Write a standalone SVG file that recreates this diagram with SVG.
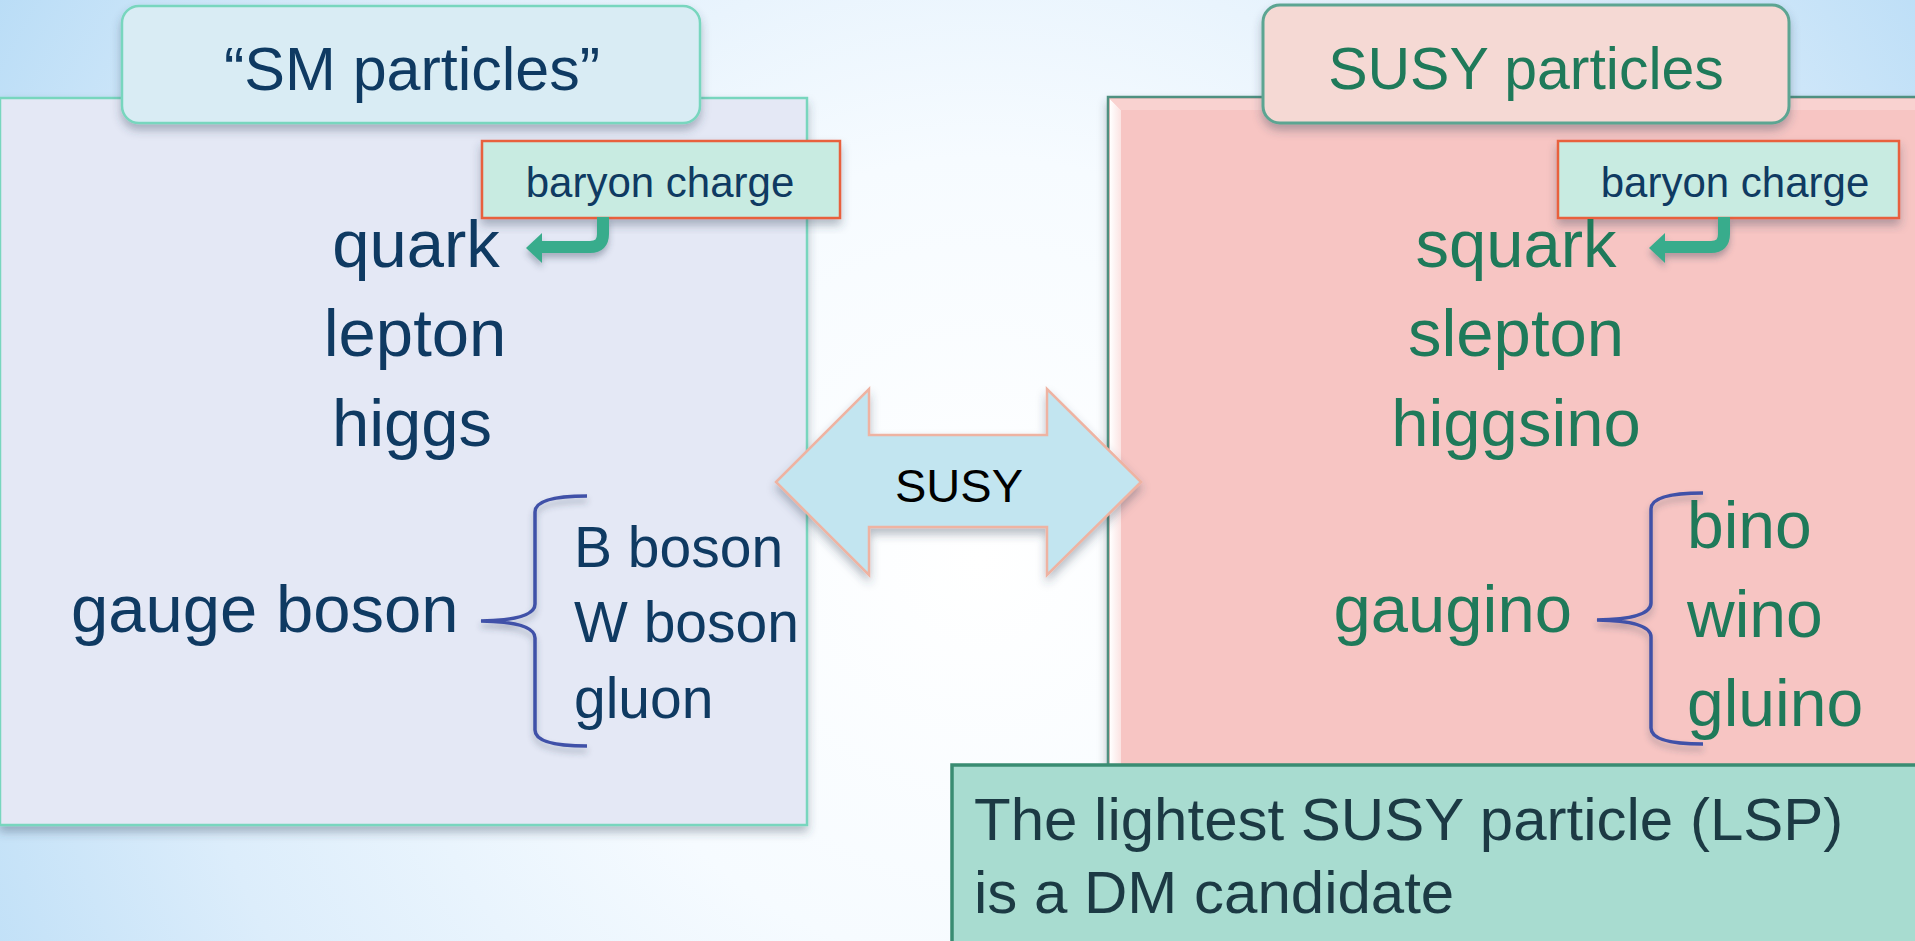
<svg xmlns="http://www.w3.org/2000/svg" width="1915" height="941" viewBox="0 0 1915 941">
<defs>
<radialGradient id="bg" cx="980" cy="560" r="1150" gradientUnits="userSpaceOnUse">
<stop offset="0" stop-color="#ffffff"/>
<stop offset="0.35" stop-color="#f6fbff"/>
<stop offset="0.7" stop-color="#dcedfb"/>
<stop offset="1" stop-color="#b8dcf6"/>
</radialGradient>
<linearGradient id="bevel" x1="0" y1="0" x2="1" y2="0">
<stop offset="0" stop-color="#ffffff"/>
<stop offset="1" stop-color="#fbe3e2"/>
</linearGradient>
<filter id="sh" x="-10%" y="-10%" width="120%" height="130%">
<feDropShadow dx="0" dy="6" stdDeviation="5" flood-color="#33405a" flood-opacity="0.35"/>
</filter>
<filter id="shs" x="-20%" y="-20%" width="140%" height="160%">
<feDropShadow dx="0" dy="5" stdDeviation="3" flood-color="#33405a" flood-opacity="0.35"/>
</filter>
</defs>
<style>
text{font-family:"Liberation Sans",Arial,sans-serif}
.sm{fill:#0f3a62}
.su{fill:#1f7a5a}
.big{font-size:67px}
.sub{font-size:57px}
.bc{font-size:42px;fill:#0f3a62}
.brace{fill:none;stroke:#3f51a8;stroke-width:3.5;filter:url(#shs)}
.bent{fill:none;stroke:#38ac8c;stroke-width:12}
.bhead{fill:#38ac8c}
</style>
<rect x="0" y="0" width="1915" height="941" fill="url(#bg)"/>

<g id="sm-panel">
<rect x="0" y="98" width="807" height="727" fill="#e4e8f5" stroke="#78d6be" stroke-width="2.5" filter="url(#sh)"/>
</g>

<g id="susy-panel">
<rect x="1108" y="97" width="820" height="720" fill="#f7c5c3" stroke="#4f9080" stroke-width="2.5" filter="url(#sh)"/>
<polygon points="1110,99 1121,110 1121,817 1110,817" fill="url(#bevel)"/>
<polygon points="1110,99 1915,99 1915,110 1121,110" fill="#f9d2d0"/>
</g>

<g id="sm-title">
<rect x="122" y="6" width="578" height="117" rx="17" fill="#d9ecf4" stroke="#78d6be" stroke-width="2.5" filter="url(#sh)"/>
<text x="412" y="90" text-anchor="middle" font-size="61" class="sm">“SM particles”</text>
</g>

<g id="susy-title">
<rect x="1263" y="5" width="526" height="118" rx="17" fill="#f5d9d4" stroke="#5ca592" stroke-width="3" filter="url(#sh)"/>
<text x="1526" y="89" text-anchor="middle" font-size="59" class="su">SUSY particles</text>
</g>

<g id="sm-baryon">
<rect x="482" y="141" width="358" height="77" fill="#c8ebe1" stroke="#e8603c" stroke-width="2.5" filter="url(#sh)"/>
<text x="660" y="197" text-anchor="middle" class="bc">baryon charge</text>
</g>

<g id="susy-baryon">
<rect x="1558" y="141" width="341" height="77" fill="#c8ebe1" stroke="#e8603c" stroke-width="2.5" filter="url(#sh)"/>
<text x="1735" y="197" text-anchor="middle" class="bc">baryon charge</text>
</g>

<g id="sm-list">
<text x="416" y="267" text-anchor="middle" class="sm big">quark</text>
<text x="415" y="356" text-anchor="middle" class="sm big">lepton</text>
<text x="412" y="446" text-anchor="middle" class="sm big">higgs</text>
<text x="71" y="632" class="sm big">gauge boson</text>
<text x="574" y="567" class="sm sub">B boson</text>
<text x="574" y="642" class="sm sub">W boson</text>
<text x="574" y="718" class="sm sub">gluon</text>
</g>

<g id="susy-list">
<text x="1516" y="267" text-anchor="middle" class="su big">squark</text>
<text x="1516" y="356" text-anchor="middle" class="su big">slepton</text>
<text x="1516" y="446" text-anchor="middle" class="su big">higgsino</text>
<text x="1572" y="632" text-anchor="end" class="su big">gaugino</text>
<text x="1687" y="548" class="su" font-size="66">bino</text>
<text x="1687" y="637" class="su" font-size="66">wino</text>
<text x="1687" y="726" class="su" font-size="66">gluino</text>
</g>

<g id="susy-arrow">
<polygon points="776,482 869,389 869,435 1047,435 1047,389 1141,482 1047,575 1047,527 869,527 869,575" fill="#c2e5f0" stroke="#eeb3a2" stroke-width="2.5" stroke-linejoin="miter" filter="url(#sh)"/>
<text x="959" y="502" text-anchor="middle" font-size="47" fill="#000000">SUSY</text>
</g>

<g id="lsp">
<rect x="952" y="765" width="975" height="190" fill="#a8dcd0" stroke="#3a8c72" stroke-width="3.5"/>
<text x="974" y="840" font-size="60" fill="#1c3a44">The lightest SUSY particle (LSP)</text>
<text x="974" y="913" font-size="60" fill="#1c3a44">is a DM candidate</text>
</g>

<g id="connectors">
<g filter="url(#shs)">
<path class="bent" d="M603,217 L603,234 Q603,247 590,247 L538,247"/>
<polygon class="bhead" points="526,248 542,233 542,263"/>
<path class="bent" d="M1724,217 L1724,234 Q1724,247 1711,247 L1661,247"/>
<polygon class="bhead" points="1649,248 1665,233 1665,263"/>
</g>
<path class="brace" d="M587,496 Q535,496 535,512 L535,604 Q535,620 481,621 Q535,622 535,638 L535,730 Q535,746 587,746"/>
<path class="brace" d="M1703,493 Q1651,493 1651,509 L1651,603 Q1651,619 1597,620 Q1651,621 1651,637 L1651,728 Q1651,744 1703,744"/>
</g>
</svg>
